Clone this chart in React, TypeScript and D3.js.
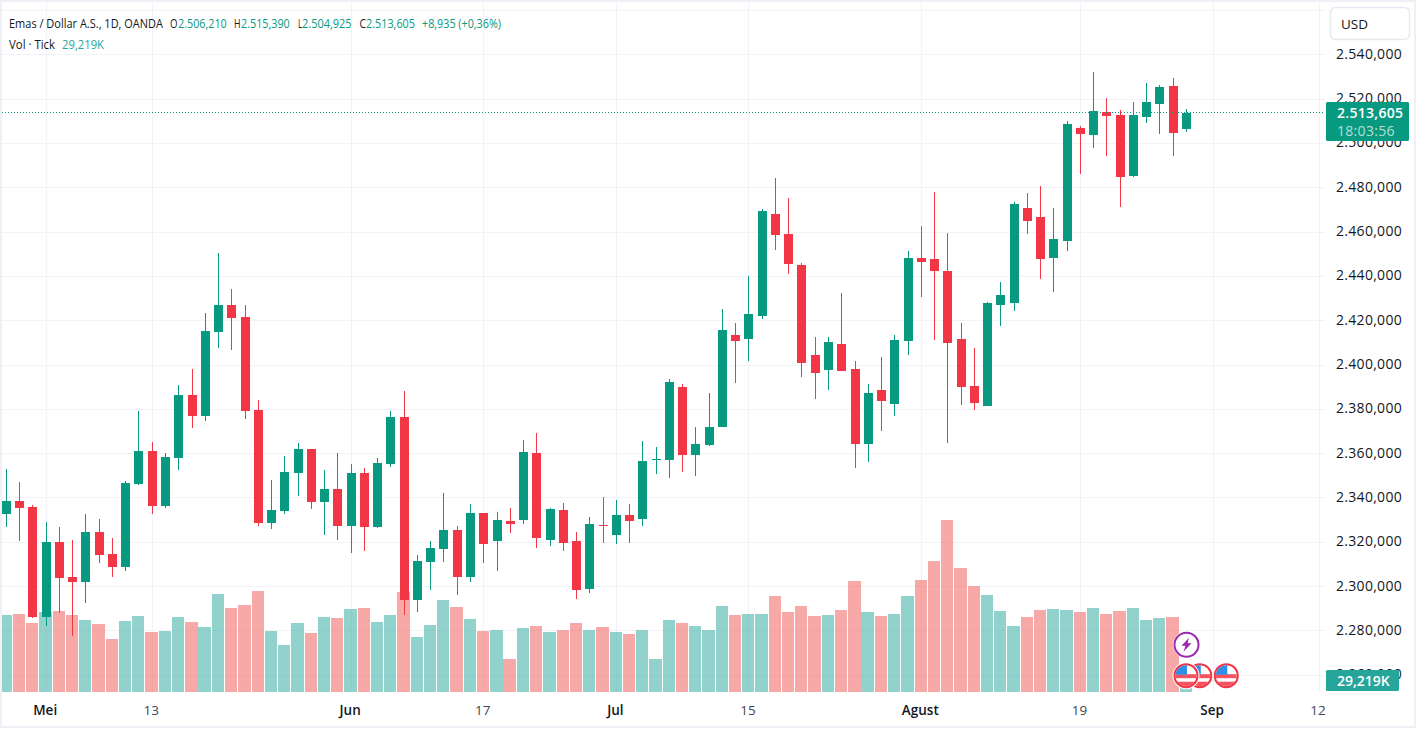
import React from "react";
import * as d3 from "d3";

const opens = [
  2332.5, 2338.4, 2335.7, 2286.0, 2319.9, 2304.1, 2301.8, 2324.4, 2314.5, 2308.6,
  2346.1, 2361.0, 2336.1, 2357.8, 2386.2, 2376.8, 2414.7, 2426.9, 2421.4, 2379.5,
  2328.5, 2333.9, 2351.0, 2361.9, 2337.9, 2343.8, 2327.1, 2351.0, 2326.7, 2355.1,
  2376.3, 2293.7, 2310.9, 2316.7, 2325.3, 2304.1, 2333.0, 2320.3, 2329.4, 2329.8,
  2360.1, 2320.8, 2334.3, 2320.3, 2298.7, 2327.6, 2323.1, 2332.1, 2330.3, 2356.9,
  2356.9, 2389.8, 2359.2, 2363.7, 2371.8, 2413.3, 2411.5, 2421.9, 2467.9, 2458.9,
  2444.9, 2404.3, 2397.5, 2409.3, 2398.0, 2364.1, 2388.5, 2382.2, 2410.6, 2448.1,
  2447.6, 2442.2, 2411.5, 2390.3, 2381.3, 2426.9, 2427.8, 2470.6, 2466.6, 2448.1,
  2455.7, 2506.7, 2503.6, 2514.0, 2512.6, 2485.1, 2511.7, 2517.6, 2525.7, 2506.21,
];
const highs = [
  2352.8, 2347.0, 2336.6, 2328.9, 2326.7, 2320.8, 2332.5, 2330.3, 2321.7, 2347.4,
  2379.0, 2365.0, 2360.1, 2390.7, 2398.0, 2423.2, 2450.3, 2434.1, 2426.9, 2384.0,
  2347.9, 2358.7, 2364.6, 2361.9, 2352.4, 2360.1, 2355.1, 2353.3, 2357.8, 2379.0,
  2388.0, 2314.0, 2320.3, 2342.0, 2327.1, 2337.0, 2333.0, 2333.4, 2335.2, 2365.9,
  2369.1, 2335.2, 2337.5, 2324.4, 2331.2, 2340.2, 2338.8, 2337.0, 2365.5, 2362.8,
  2393.5, 2391.2, 2371.8, 2387.1, 2425.0, 2418.7, 2439.9, 2470.2, 2484.2, 2475.1,
  2445.8, 2412.4, 2412.4, 2432.3, 2401.6, 2391.2, 2403.4, 2413.3, 2451.2, 2462.5,
  2477.9, 2459.3, 2418.7, 2407.4, 2428.2, 2437.2, 2473.3, 2477.4, 2480.6, 2470.6,
  2509.9, 2507.6, 2532.0, 2520.3, 2514.9, 2518.5, 2527.0, 2526.1, 2529.3, 2515.39,
];
const lows = [
  2326.7, 2320.3, 2285.6, 2282.0, 2287.9, 2277.5, 2292.4, 2310.4, 2304.1, 2306.8,
  2345.6, 2332.5, 2335.2, 2352.4, 2371.3, 2374.5, 2407.4, 2406.5, 2375.4, 2327.1,
  2325.8, 2332.5, 2340.7, 2334.8, 2323.1, 2320.8, 2314.9, 2315.8, 2326.2, 2353.7,
  2287.0, 2288.3, 2298.2, 2310.9, 2296.0, 2301.8, 2310.4, 2306.8, 2324.0, 2328.0,
  2317.2, 2318.1, 2315.8, 2294.2, 2296.9, 2319.4, 2319.0, 2319.4, 2327.1, 2350.6,
  2348.8, 2351.5, 2349.7, 2363.2, 2371.8, 2391.7, 2401.6, 2420.5, 2451.7, 2440.8,
  2394.4, 2384.4, 2388.5, 2397.1, 2353.3, 2356.0, 2370.0, 2376.8, 2404.3, 2430.5,
  2411.1, 2364.6, 2381.7, 2379.5, 2381.3, 2417.4, 2424.1, 2458.9, 2438.6, 2432.7,
  2451.2, 2486.0, 2497.7, 2494.1, 2471.1, 2484.6, 2509.0, 2504.0, 2494.1, 2504.925,
];
const closes = [
  2338.4, 2335.2, 2286.0, 2319.9, 2303.6, 2301.8, 2324.4, 2314.0, 2308.6, 2346.5,
  2361.0, 2336.1, 2358.3, 2386.2, 2376.8, 2415.1, 2426.9, 2421.0, 2379.0, 2328.5,
  2334.3, 2351.5, 2361.9, 2337.9, 2343.8, 2327.1, 2351.0, 2326.7, 2355.5, 2376.3,
  2293.7, 2311.3, 2317.2, 2325.3, 2304.1, 2333.0, 2319.0, 2329.8, 2328.0, 2360.5,
  2321.7, 2334.8, 2319.4, 2298.2, 2328.0, 2327.1, 2332.1, 2329.4, 2356.5, 2357.4,
  2392.1, 2359.2, 2364.1, 2371.8, 2415.6, 2410.6, 2422.8, 2469.3, 2458.4, 2445.4,
  2400.7, 2396.2, 2410.2, 2397.1, 2364.1, 2387.1, 2383.5, 2411.1, 2448.1, 2446.3,
  2442.2, 2409.7, 2389.8, 2382.6, 2427.8, 2431.4, 2472.4, 2464.8, 2447.6, 2456.6,
  2508.5, 2504.0, 2514.4, 2512.1, 2484.6, 2512.6, 2518.5, 2525.2, 2504.5, 2513.605,
];
// tick volume in thousands
const volumes = [
  200, 203, 179, 208, 211, 200, 187, 177, 138, 185,
  198, 156, 159, 195, 182, 169, 255, 218, 226, 263,
  159, 122, 179, 153, 195, 192, 216, 218, 182, 200,
  260, 143, 174, 239, 221, 190, 159, 161, 86, 166,
  172, 156, 161, 179, 161, 169, 156, 151, 161, 86,
  187, 179, 172, 161, 224, 200, 203, 203, 250, 208,
  224, 198, 200, 213, 289, 208, 198, 203, 250, 291,
  341, 447, 322, 276, 252, 211, 172, 195, 213, 216,
  213, 208, 218, 203, 211, 218, 187, 192, 195, 29.219,
];

const priceGrid = d3.range(2260, 2561, 20);
const priceLabels = d3.range(2260, 2541, 20);
const timeTickIndex = [3, 11, 26, 36, 46, 56, 69, 81, 91, 99];
const timeTickLabels = ["Mei", "13", "Jun", "17", "Jul", "15", "Agust", "19", "Sep", "12"];
const majorTicks = ["Mei", "Jun", "Jul", "Agust", "Sep"];
const flagIndex = [90, 92, 89];

const lastClose = 2513.605;
const UP = "#089981";
const DOWN = "#F23645";
const FONT = "'Open Sans', sans-serif";
const INK = "#131722";

const x = d3.scaleLinear().domain([0, 99]).range([6.4, 1319.1]);
const y = d3.scaleLinear().domain([2540, 2260]).range([54.3, 674.7]);
const yVol = d3.scaleLinear().domain([0, 260]).range([692, 592]);

const idFormat = d3.formatLocale({
  decimal: ",",
  thousands: ".",
  grouping: [3],
  currency: ["", ""],
});
const priceFormat = idFormat.format(",.3f");

const px = (v: number) => Math.floor(x(v));

// legend font is narrower in the original, so squeeze runs to the measured width
const Fit = ({ at, w, fill, children }: { at: number; w: number; fill?: string; children: React.ReactNode }) => (
  <text x={at} textLength={w} lengthAdjust="spacingAndGlyphs" fill={fill}>
    {children}
  </text>
);

const Flag = ({ cx, cy, id }: { cx: number; cy: number; id: string }) => (
  <g transform={`translate(${cx},${cy})`}>
    <clipPath id={id}>
      <circle r={10.5} />
    </clipPath>
    <circle r={13.5} fill="#fff" />
    <circle r={11.5} fill="#fff" stroke={DOWN} strokeWidth={2} />
    <g clipPath={`url(#${id})`}>
      <rect x={-11} y={-1.5} width={22} height={4} fill="#f7525f" />
      <rect x={-11} y={6} width={22} height={5} fill="#f7525f" />
      <rect x={-11} y={-11} width={12} height={10} fill="#2e8ee8" />
    </g>
  </g>
);

export default function App() {
  return (
    <svg
      width={1419}
      height={733}
      style={{ position: "fixed", left: 0, top: 0, background: "#fff", fontFamily: FONT }}
    >
      {/* frame */}
      <rect x={1} y={1} width={1414} height={726} fill="#fff" stroke="#f0f0f6" strokeWidth={2} />

      {/* grid */}
      <g stroke="#f2f3f7" strokeWidth={1} shapeRendering="crispEdges">
        {priceGrid.map((p) => (
          <line key={p} x1={2} x2={1325} y1={Math.round(y(p)) + 0.5} y2={Math.round(y(p)) + 0.5} />
        ))}
        {timeTickIndex.map((t) => (
          <line key={t} x1={px(t) + 0.5} x2={px(t) + 0.5} y1={2} y2={692} />
        ))}
      </g>

      {/* volume */}
      <g shapeRendering="crispEdges">
        {volumes.map((v, i) => {
          const left = Math.max(2, Math.floor(x(i) - 6.3));
          const right = Math.round(x(i) + 5.5);
          return (
            <rect
              key={i}
              x={left}
              y={Math.round(yVol(v))}
              width={right - left}
              height={692 - Math.round(yVol(v))}
              fill={closes[i] >= opens[i] ? "rgba(38,166,154,0.5)" : "rgba(239,83,80,0.5)"}
            />
          );
        })}
      </g>

      {/* candles */}
      <g shapeRendering="crispEdges">
        {opens.map((o, i) => {
          const c = closes[i];
          const color = c >= o ? UP : DOWN;
          const top = Math.round(y(Math.max(o, c)));
          const bottom = Math.round(y(Math.min(o, c)));
          const hi = Math.round(y(highs[i]));
          const lo = Math.round(y(lows[i]));
          return (
            <g key={i} fill={color}>
              <rect x={px(i)} y={hi} width={1} height={Math.max(1, lo - hi)} />
              <rect x={px(i) - 4} y={top} width={9} height={Math.max(1, bottom - top)} />
            </g>
          );
        })}
      </g>

      {/* last price line */}
      <line
        x1={2}
        x2={1325}
        y1={y(lastClose) - 0.3}
        y2={y(lastClose) - 0.3}
        stroke={UP}
        strokeWidth={1.2}
        strokeDasharray="1 2"
      />

      {/* event markers */}
      {flagIndex.map((f, i) => (
        <Flag key={f} cx={x(f) - (f === 89 ? 0.5 : 0)} cy={675.7} id={`flag-${i}`} />
      ))}
      <g transform={`translate(${x(89)},644.7)`}>
        <circle r={13.5} fill="#fff" />
        <circle r={12} fill="#fff" stroke="#9c27b0" strokeWidth={2} />
        <path d="M2.5,-7 L-5,1 L-1,1 L-3,7 L5,-1.5 L1,-1.5 Z" fill="#9c27b0" />
      </g>

      {/* price axis */}
      <g fontSize={14} fill={INK} dominantBaseline="central" letterSpacing={0.3}>
        {priceLabels.map((p) => (
          <text key={p} x={1336} y={y(p) - 1}>
            {priceFormat(p)}
          </text>
        ))}
      </g>

      <rect x={1330.5} y={7.5} width={79} height={32} rx={5} fill="#fff" stroke="#e8e9f1" strokeWidth={1.5} />
      <text x={1341} y={24} fontSize={13.5} fill={INK} dominantBaseline="central">
        USD
      </text>

      <rect x={1326} y={102} width={83} height={39} rx={1.5} fill={UP} />
      <text x={1337} y={112} fontSize={14} fontWeight={600} fill="#fff" dominantBaseline="central" letterSpacing={0.3}>
        {priceFormat(lastClose)}
      </text>
      <text x={1337} y={130} fontSize={14} fill="rgba(255,255,255,0.7)" dominantBaseline="central" letterSpacing={0.3}>
        18:03:56
      </text>

      <rect x={1326} y={670} width={73} height={21} rx={1.5} fill="#26a69a" />
      <text x={1337} y={680} fontSize={14} fontWeight={600} fill="#fff" dominantBaseline="central">
        29,219K
      </text>

      {/* time axis */}
      <g fontSize={13.5} textAnchor="middle" dominantBaseline="central">
        {timeTickIndex.map((t, i) => (
          <text
            key={t}
            x={x(t) - 1}
            y={710}
            fill={majorTicks.includes(timeTickLabels[i]) ? INK : "#434651"}
            fontWeight={majorTicks.includes(timeTickLabels[i]) ? 600 : 400}
          >
            {timeTickLabels[i]}
          </text>
        ))}
      </g>

      {/* legend */}
      <g fontSize={13.5} dominantBaseline="central" fill={INK}>
        <g transform="translate(0,22.5)">
          <Fit at={9} w={154}>Emas / Dollar A.S., 1D, OANDA</Fit>
          <Fit at={170} w={7.5}>O</Fit>
          <Fit at={178} w={48.7} fill={UP}>{priceFormat(opens[89])}</Fit>
          <Fit at={234} w={6.5}>H</Fit>
          <Fit at={241} w={48.7} fill={UP}>{priceFormat(highs[89])}</Fit>
          <Fit at={298} w={4}>L</Fit>
          <Fit at={302} w={49.5} fill={UP}>{priceFormat(lows[89])}</Fit>
          <Fit at={359.5} w={6.5}>C</Fit>
          <Fit at={366} w={49} fill={UP}>{priceFormat(closes[89])}</Fit>
          <Fit at={422} w={79} fill={UP}>+8,935 (+0,36%)</Fit>
        </g>
        <g transform="translate(0,44)">
          <Fit at={9} w={46}>Vol · Tick</Fit>
          <Fit at={62} w={42} fill="#26a69a">29,219K</Fit>
        </g>
      </g>
    </svg>
  );
}
